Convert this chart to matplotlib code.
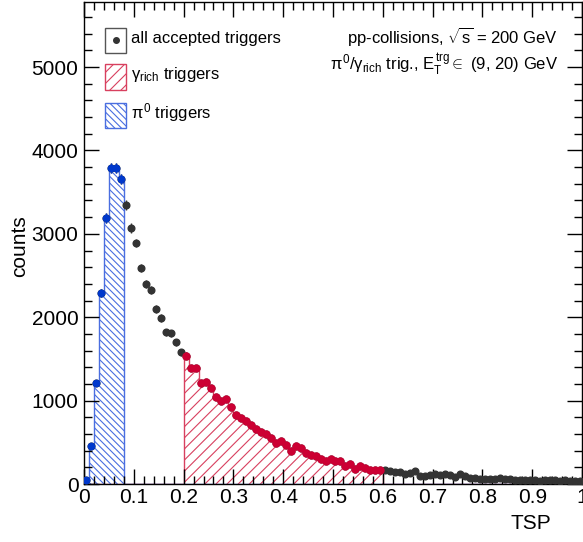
import numpy as np
import matplotlib
matplotlib.use("Agg")
import matplotlib.pyplot as plt
from matplotlib.patches import Rectangle
from matplotlib.ticker import MultipleLocator

plt.rcParams['font.family'] = ['Liberation Sans', 'DejaVu Sans']
plt.rcParams['mathtext.fontset'] = 'custom'
plt.rcParams['mathtext.rm'] = 'Liberation Sans'
plt.rcParams['mathtext.it'] = 'Liberation Sans'
plt.rcParams['mathtext.sf'] = 'Liberation Sans'
plt.rcParams['mathtext.bf'] = 'Liberation Sans:bold'
plt.rcParams['hatch.linewidth'] = 0.8

'''
DATA
'''

bin_edges = np.linspace(0.0, 1.0, 101)

all_counts = [
    50, 450, 1210, 2290, 3190, 3790, 3790, 3660, 3345, 3070,
    2890, 2590, 2400, 2330, 2100, 1990, 1820, 1810, 1700, 1580,
    1540, 1390, 1390, 1215, 1220, 1150, 1040, 995, 1020, 920,
    830, 790, 750, 710, 660, 620, 595, 550, 490, 510,
    470, 400, 460, 430, 375, 350, 330, 300, 280, 295,
    270, 275, 220, 240, 180, 220, 195, 170, 170, 170,
    168, 150, 140, 145, 120, 128, 160, 96, 96, 108,
    125, 108, 116, 108, 88, 116, 96, 70, 70, 60,
    55, 58, 62, 70, 65, 58, 52, 50, 45, 50,
    45, 40, 45, 48, 42, 40, 45, 40, 35, 30,
]

pi0_range   = (0.0, 0.08)   # pi0 trigger TSP window
gamma_range = (0.2, 0.6)    # gamma_rich trigger TSP window

x_ticks  = [0, 0.1, 0.2, 0.3, 0.4, 0.5, 0.6, 0.7, 0.8, 0.9, 1]
y_ticks  = [0, 1000, 2000, 3000, 4000, 5000]
y_max    = 5780

'''
COLOURS
'''

C_ALL       = '#333333'
C_RED_PT    = '#cc0033'
C_RED_LINE  = '#d8405f'
C_BLUE_PT   = '#0038cc'
C_BLUE_LINE = '#4a6ee0'

HATCH_RED  = '///'
HATCH_BLUE = '\\' * 5


counts  = np.array(all_counts, dtype=float)
centers = 0.5 * (bin_edges[:-1] + bin_edges[1:])
errors  = np.sqrt(counts)

in_pi0   = (centers > pi0_range[0]) & (centers < pi0_range[1])
in_gamma = (centers > gamma_range[0]) & (centers < gamma_range[1])

pi0_counts   = np.where(in_pi0, counts, 0.0)
gamma_counts = np.where(in_gamma, counts, 0.0)

fig = plt.figure(figsize=(5.83, 5.42), dpi=100)
ax = fig.add_axes([84/583, 58/542, 498/583, 482/542])

# hatched histograms
ax.stairs(gamma_counts, bin_edges, fill=True, facecolor='none',
          edgecolor=C_RED_LINE, hatch=HATCH_RED, linewidth=0)
ax.stairs(gamma_counts, bin_edges, color=C_RED_LINE, linewidth=1.0, baseline=0)
ax.stairs(pi0_counts, bin_edges, fill=True, facecolor='none',
          edgecolor=C_BLUE_LINE, hatch=HATCH_BLUE, linewidth=0)
ax.stairs(pi0_counts, bin_edges, color=C_BLUE_LINE, linewidth=1.0, baseline=0)

# points
ax.errorbar(centers, counts, yerr=errors, fmt='o', ms=4.8, color=C_ALL,
            elinewidth=1, capsize=0, zorder=4)
ax.errorbar(centers[in_gamma], counts[in_gamma], yerr=errors[in_gamma],
            fmt='o', ms=5, color=C_RED_PT, elinewidth=1, capsize=0, zorder=5)
ax.errorbar(centers[in_pi0], counts[in_pi0], yerr=errors[in_pi0],
            fmt='o', ms=4.6, color=C_BLUE_PT, elinewidth=1, capsize=0, zorder=5)

ax.set_xlim(0, 1)
ax.set_ylim(0, y_max)
ax.set_xticks(x_ticks)
ax.set_xticklabels(['0', '0.1', '0.2', '0.3', '0.4', '0.5', '0.6', '0.7', '0.8', '0.9', '1'])
ax.set_yticks(y_ticks)
ax.xaxis.set_minor_locator(MultipleLocator(0.02))
ax.yaxis.set_minor_locator(MultipleLocator(200))
ax.tick_params(which='both', direction='in', top=True, right=True, labelsize=15, width=1)
ax.tick_params(which='major', length=11)
ax.tick_params(which='minor', length=6)
ax.tick_params(axis='y', pad=4)
ax.tick_params(axis='x', pad=3)
for s in ax.spines.values():
    s.set_linewidth(1.0)

ax.set_ylabel('counts', fontsize=15)
ax.yaxis.set_label_coords(-0.11, 0.494)
ax.set_xlabel('TSP', fontsize=15)
ax.xaxis.set_label_coords(0.898, -0.062)

# legend, drawn by hand in axes fraction
def ax_px(x, y):
    return ((x - 84) / 498.0, (484 - y) / 482.0)

box_w, box_h = 21 / 498.0, 25 / 482.0
entries = [
    (40, 'box', C_ALL, 'all accepted triggers'),
    (77, HATCH_RED, C_RED_LINE, r'$\gamma_{rich}$ triggers'),
    (115, HATCH_BLUE, C_BLUE_LINE, r'$\pi^{0}$ triggers'),
]
for yc, kind, col, label in entries:
    x0, y0 = ax_px(105, yc)
    if kind == 'box':
        ax.add_patch(Rectangle((x0, y0 - box_h / 2), box_w, box_h, transform=ax.transAxes,
                               facecolor='white', edgecolor='#555555', lw=1, zorder=6))
        ax.plot([x0 + box_w / 2], [y0], 'o', ms=4, color=C_ALL,
                transform=ax.transAxes, zorder=7)
    else:
        ax.add_patch(Rectangle((x0, y0 - box_h / 2), box_w, box_h, transform=ax.transAxes,
                               facecolor='white', edgecolor=col, hatch=kind, lw=1, zorder=6))
    tx, ty = ax_px(131, yc - 2)
    ax.text(tx, ty, label, transform=ax.transAxes, fontsize=12, va='center', ha='left')

tx, ty = ax_px(558, 37)
ax.text(tx, ty, r'pp-collisions, $\sqrt{s}$ = 200 GeV', transform=ax.transAxes,
        fontsize=12, ha='right', va='center')
tx, ty = ax_px(558, 64)
ax.text(tx, ty, r'$\pi^{0}/\gamma_{rich}$ trig., $E_{T}^{trg}\in$ (9, 20) GeV',
        transform=ax.transAxes, fontsize=12, ha='right', va='center')

fig.savefig('out.png', dpi=100)
